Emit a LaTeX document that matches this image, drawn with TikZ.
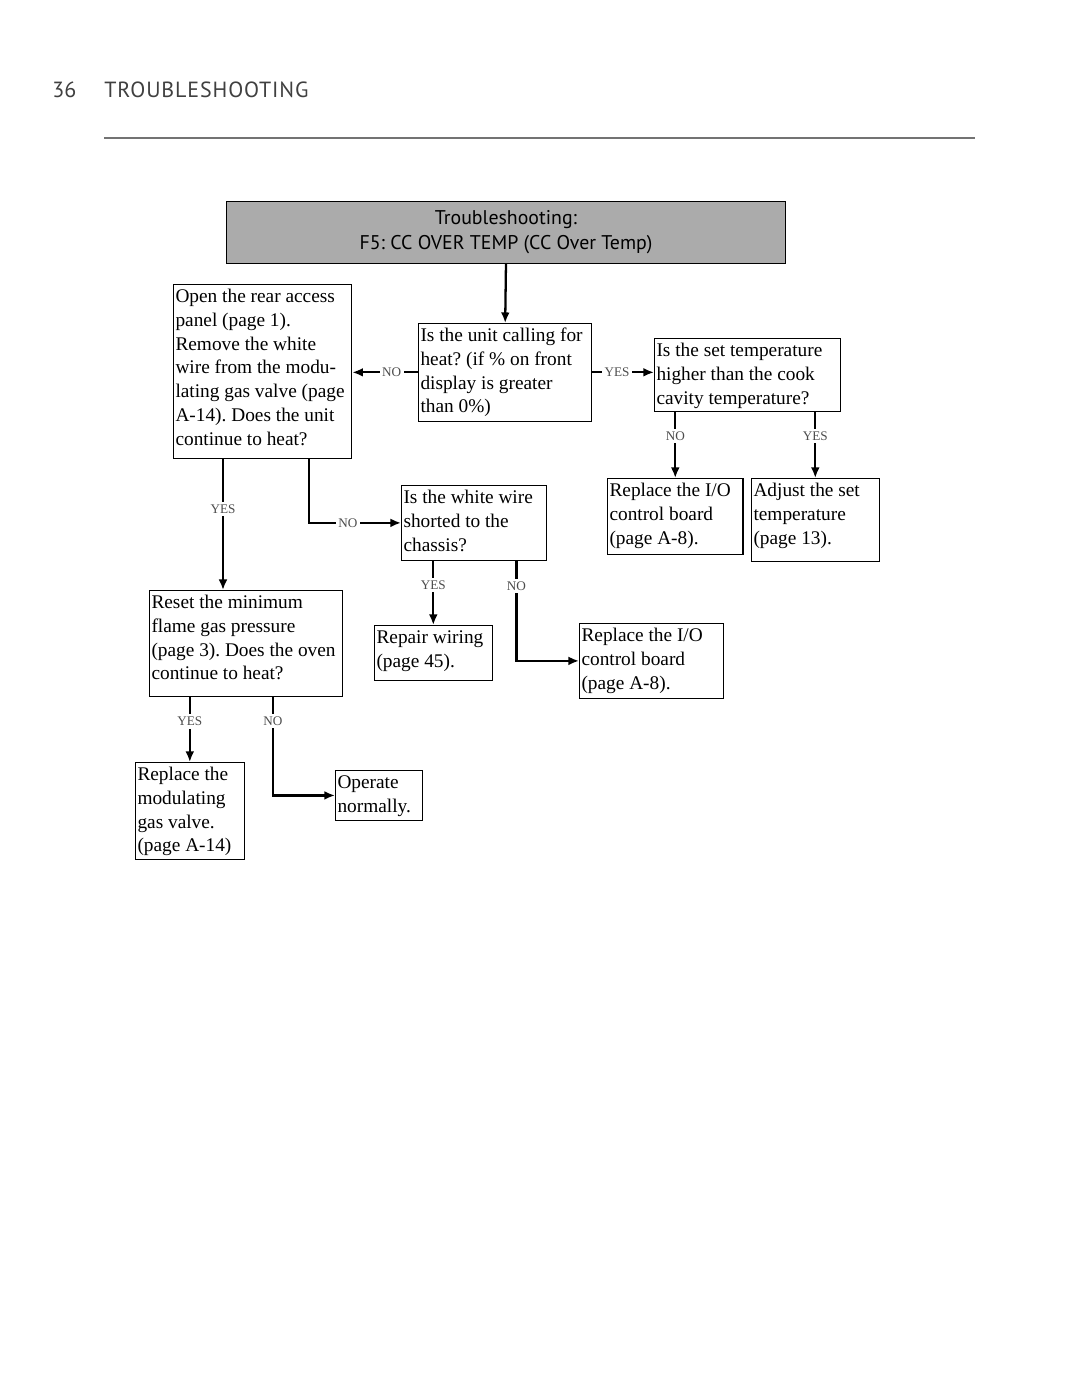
\documentclass[tikz,border=0pt]{standalone}
\usepackage{fontspec}
\setmainfont{Liberation Serif}
\newfontfamily\headfont{PT Sans}
\usetikzlibrary{arrows.meta}
\frenchspacing
\newdimen\pxu \pxu=0.5669pt
% box text: inner width, inner height (in px), lines
\newcommand{\boxtext}[3]{\parbox[c][#2\pxu][t]{#1\pxu}{\raggedright\strut #3}}

\begin{document}
\begin{tikzpicture}[x=0.02cm, y=-0.02cm,
	box/.style={draw, line width=0.6pt, anchor=north west, inner xsep=0.04cm, inner ysep=0.02cm, font=\fontsize{11}{13.6}\selectfont},
	arr/.style={line width=1.3pt, -{Latex[length=6pt,width=5pt]}},
	lbl/.style={fill=white, inner sep=1.5pt, text=black!70, font=\fontsize{7.5}{8}\selectfont}]
	\useasboundingbox (0,0) rectangle (1080,1397);

	% page header
	\node[anchor=base west, inner sep=0pt, text=black!75, font=\headfont\fontsize{12.5}{14}\selectfont] (pgnum) at (52,97) {36};
	\node[anchor=base west, inner sep=0pt, text=black!75, font=\headfont\fontsize{12.5}{14}\selectfont] (chap) at (104,97) {\addfontfeature{LetterSpace=4}TROUBLESHOOTING};
	\draw[black!55, line width=0.9pt] (104,138) -- (975,138);

	\node[draw, fill=black!33, line width=0.6pt, anchor=north west, minimum width=11.18cm, minimum height=1.24cm, align=center, font=\headfont\fontsize{11.3}{14.2}\selectfont] (title) at (226,201) {Troubleshooting:\\ F5: CC OVER TEMP (CC Over Temp)};

	\node[box] (a1) at (173,284) {\boxtext{175}{173}{Open the rear access\\ panel (page 1).\\ Remove the white\\ wire from the modu-\\ lating gas valve (page\\ A-14). Does the unit\\ continue to heat?}};
	\node[box] (q1) at (418,323) {\boxtext{170}{96}{Is the unit calling for\\ heat? (if \% on front\\ display is greater\\ than 0\%)}};
	\node[box] (q2) at (654,338) {\boxtext{183}{71}{Is the set temperature\\ higher than the cook\\ cavity temperature?}};
	\node[box] (r1) at (607,478) {\boxtext{132}{74}{Replace the I/O\\ control board\\ (page A-8).}};
	\node[box] (r2) at (751,478) {\boxtext{124}{81}{Adjust the set\\ temperature\\ (page 13).}};
	\node[box] (q3) at (401,485) {\boxtext{142}{73}{Is the white wire\\ shorted to the\\ chassis?}};
	\node[box] (r3) at (374,625) {\boxtext{114}{53}{Repair wiring\\ (page 45).}};
	\node[box] (r4) at (579,623) {\boxtext{141}{73}{Replace the I/O\\ control board\\ (page A-8).}};
	\node[box] (b1) at (149,590) {\boxtext{190}{104}{Reset the minimum\\ flame gas pressure\\ (page 3). Does the oven\\ continue to heat?}};
	\node[box] (b2) at (135,762) {\boxtext{105}{95}{Replace the\\ modulating\\ gas valve.\\ (page A-14)}};
	\node[box] (b3) at (335,770) {\boxtext{83}{48}{Operate\\ normally.}};

	\draw[arr] (title.south) -- (q1.north);
	\draw[arr] (q1.west) -- node[lbl, pos=0.4] {NO} (a1.east |- q1.west);
	\draw[arr] (q1.east) -- node[lbl, pos=0.4] {YES} (q2.west |- q1.east);
	\draw[arr] (r1.north |- q2.south) -- node[lbl, pos=0.37] {NO} (r1.north);
	\draw[arr] (r2.north |- q2.south) -- node[lbl, pos=0.37] {YES} (r2.north);
	\draw[arr] (a1.south west) ++(50,0) coordinate (ayes) -- node[lbl, pos=0.38] {YES} (ayes |- b1.north);
	\draw[arr] (a1.south east) ++(-43,0) |- node[lbl, pos=0.71] {NO} (q3.west);
	\draw[arr] (r3.north |- q3.south) -- node[lbl, pos=0.38] {YES} (r3.north);
	\draw[arr] (q3.south east) ++(-31,0) |- node[lbl, pos=0.125] {NO} (r4.west);
	\draw[arr] (b2.north |- b1.south) -- node[lbl, pos=0.38] {YES} (b2.north);
	\draw[arr] (b1.south west) ++(124,0) |- node[lbl, pos=0.125] {NO} (b3.west);
\end{tikzpicture}
\end{document}
